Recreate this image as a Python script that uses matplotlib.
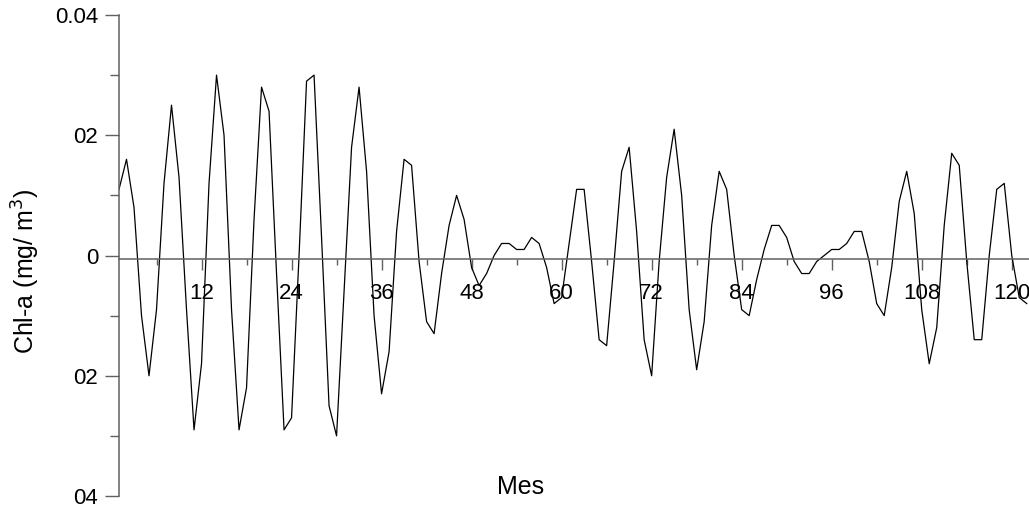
import matplotlib.pyplot as plt
import numpy as np
from matplotlib.ticker import FixedLocator, FixedFormatter

plt.rcParams['font.family'] = ['Liberation Sans', 'DejaVu Sans']

# Chl-a anomaly per month (mg/m3)
chl = [
    0.011, 0.016, 0.008, -0.010, -0.020, -0.009, 0.012, 0.025, 0.013, -0.009,
    -0.029, -0.018, 0.012, 0.030, 0.020, -0.009, -0.029, -0.022, 0.006, 0.028,
    0.024, -0.003, -0.029, -0.027, 0.000, 0.029, 0.030, 0.003, -0.025, -0.030,
    -0.006, 0.018, 0.028, 0.014, -0.010, -0.023, -0.016, 0.004, 0.016, 0.015,
    -0.001, -0.011, -0.013, -0.003, 0.005, 0.010, 0.006, -0.002, -0.005, -0.003,
    0.000, 0.002, 0.002, 0.001, 0.001, 0.003, 0.002, -0.002, -0.008, -0.007,
    0.002, 0.011, 0.011, -0.001, -0.014, -0.015, -0.001, 0.014, 0.018, 0.004,
    -0.014, -0.020, -0.001, 0.013, 0.021, 0.010, -0.009, -0.019, -0.011, 0.005,
    0.014, 0.011, 0.000, -0.009, -0.010, -0.004, 0.001, 0.005, 0.005, 0.003,
    -0.001, -0.003, -0.003, -0.001, 0.000, 0.001, 0.001, 0.002, 0.004, 0.004,
    -0.001, -0.008, -0.010, -0.002, 0.009, 0.014, 0.007, -0.009, -0.018, -0.012,
    0.005, 0.017, 0.015, -0.001, -0.014, -0.014, 0.000, 0.011, 0.012, 0.000,
    -0.007, -0.008,
]
months = np.arange(1, len(chl) + 1)

y_major = [-0.04, -0.02, 0.0, 0.02, 0.04]
y_major_labels = ['04', '02', '0', '02', '0.04']
y_minor = [-0.03, -0.01, 0.01, 0.03]
x_major = [12, 24, 36, 48, 60, 72, 84, 96, 108, 120]
x_minor = [6, 18, 30, 42, 54, 66, 78, 90, 102, 114]

fig = plt.figure(figsize=(10.29, 5.07), dpi=100)
ax = fig.add_axes([119 / 1029, 11 / 507, 1 - 119 / 1029, 481 / 507])

ax.plot(months, chl, color='black', lw=0.9)

ax.set_xlim(1, 122.3)
ax.set_ylim(-0.04, 0.04)

spine_col = '#606060'
ax.spines['top'].set_visible(False)
ax.spines['right'].set_visible(False)
ax.spines['left'].set_color(spine_col)
ax.spines['left'].set_linewidth(1.1)
ax.spines['bottom'].set_position(('data', -0.0006))
ax.spines['bottom'].set_color(spine_col)
ax.spines['bottom'].set_linewidth(1.1)

ax.yaxis.set_major_locator(FixedLocator(y_major))
ax.yaxis.set_major_formatter(FixedFormatter(y_major_labels))
ax.yaxis.set_minor_locator(FixedLocator(y_minor))
ax.xaxis.set_major_locator(FixedLocator(x_major))
ax.xaxis.set_minor_locator(FixedLocator(x_minor))

ax.tick_params(axis='y', which='major', direction='out', length=10, width=1.0,
               color=spine_col, pad=5, labelsize=16)
ax.tick_params(axis='y', which='minor', direction='out', length=6.5, width=1.0,
               color=spine_col)
ax.tick_params(axis='x', which='major', direction='out', length=8, width=1.0,
               color=spine_col, pad=9, labelsize=16)
ax.tick_params(axis='x', which='minor', direction='out', length=4, width=1.0,
               color=spine_col)

fig.text(26 / 1029, 1 - 271 / 507, 'Chl-a (mg/ m$^{3}$)', rotation=90,
         ha='center', va='center', fontsize=18)
fig.text(521 / 1029, 1 - 487 / 507, 'Mes', ha='center', va='center', fontsize=18)

fig.savefig('out.png', dpi=100)
